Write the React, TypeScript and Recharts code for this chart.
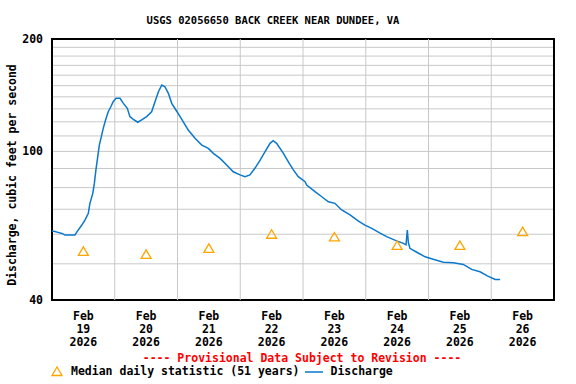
import React from "react";
import { ComposedChart, Line, Scatter, XAxis, YAxis, CartesianGrid, ReferenceLine, ReferenceArea } from "recharts";

const hours = [
  0, 1.1, 2.3, 3.8, 5, 8.8, 9.4, 11.4, 12.6, 13.9, 14.5, 15.6, 16.2, 16.8, 17.5, 18.1, 19, 19.6, 20.5,
  21.5, 22.5, 23.4, 24.5, 26, 27.3, 28.8, 29.8, 31.1, 32.8, 34.3, 36.2, 38.1, 39.4, 40.7, 42, 43.2,
  44.5, 45.8, 47.4, 49, 50.9, 52.1, 54.7, 57.3, 59.8, 61.7, 64.3, 66.8, 69.3, 71.9, 73.8, 75.7, 77.6,
  79.6, 81.5, 83.4, 84.6, 85.9, 88.5, 90.4, 92.3, 94.2, 96.8, 97.4, 100.6, 103.2, 105.7, 108.2, 110.8,
  114, 117.2, 119.7, 122.3, 125.5, 128, 131.8, 134.4, 135.4, 135.9, 136.3, 136.9, 139.5, 142.7, 145.8,
  149.7, 153.5, 157.3, 160.5, 163.7, 166.5, 169.5, 171.4,
];
const discharge = [
  61.2, 61, 60.7, 60.3, 59.7, 59.7, 60.7, 63.5, 65.5, 68.3, 72.6, 77.2, 82.1, 89.2, 96.8, 104, 110.6,
  115.3, 121.4, 127.7, 131.7, 135.9, 138.7, 138.7, 134.5, 130.4, 123.9, 121.9, 119.7, 121.4, 123.9,
  127.7, 135.9, 144.5, 150.6, 149, 143.1, 134.5, 129.1, 123.9, 117.7, 114.1, 108.4, 104, 101.9, 98.8,
  95.8, 92, 88.2, 86.5, 85.6, 86.5, 90.1, 94.8, 99.8, 105.1, 106.8, 105.1, 98.8, 93.8, 89.2, 85.6, 83,
  81.3, 78, 75.6, 73.3, 72.6, 69.7, 67.6, 65.1, 63.5, 62.2, 60.4, 59.1, 57.6, 56.7, 56.2, 61.6, 57,
  55, 53.7, 52.2, 51.4, 50.5, 50.3, 49.8, 48.3, 47.6, 46.4, 45.4, 45.4,
];

const medianHours = [12, 36, 60, 84, 108, 132, 156, 180];
const medianValues = [54, 53, 55, 60, 59, 56, 56, 61];

const dayLabels = ["19", "20", "21", "22", "23", "24", "25", "26"];
const gridHours = [24, 48, 72, 96, 120, 144, 168];
const yTicks = [40, 50, 60, 70, 80, 90, 100, 110, 120, 130, 140, 150, 160, 170, 180, 190, 200];
const yLabelTicks = [40, 100, 200];

const flowData = hours.map((h, i) => ({ h, q: discharge[i] }));
const medianData = medianHours.map((h, i) => ({ h, q: medianValues[i] }));

const FONT = "'DejaVu Sans Mono', monospace";
const BLUE = "#0a78cc";
const ORANGE = "#ffa500";
const GRID = "#c8c8c8";

function DateTick({ x, y, payload }: any) {
  const day = dayLabels[Math.floor(payload.value / 24)];
  return (
    <text x={x} y={y} textAnchor="middle" fontFamily={FONT} fontWeight="bold" fontSize={11.5} fill="#000">
      <tspan x={x} dy={18}>Feb</tspan>
      <tspan x={x} dy={13}>{day}</tspan>
      <tspan x={x} dy={13}>2026</tspan>
    </text>
  );
}

function ValueTick({ x, y, payload }: any) {
  if (!yLabelTicks.includes(payload.value)) return null;
  return (
    <text x={x} y={y} dy={4} textAnchor="end" fontFamily={FONT} fontWeight="bold" fontSize={11.5} fill="#000">
      {payload.value}
    </text>
  );
}

function Triangle({ cx, cy }: any) {
  if (cx == null || cy == null) return null;
  return (
    <polygon
      points={`${cx},${cy - 4.5} ${cx + 5},${cy + 4} ${cx - 5},${cy + 4}`}
      fill="none"
      stroke={ORANGE}
      strokeWidth={1.3}
    />
  );
}

const textStyle: React.CSSProperties = {
  position: "absolute",
  fontFamily: FONT,
  fontWeight: "bold",
  fontSize: 11.5,
  whiteSpace: "nowrap",
  lineHeight: 1,
};

export default function App() {
  return (
    <div style={{ position: "absolute", left: 0, top: 0, width: 576, height: 384, background: "#fff" }}>
      <ComposedChart width={576} height={384} data={flowData} margin={{ top: 39, right: 22, bottom: 34, left: 0 }}>
        <CartesianGrid vertical={false} stroke={GRID} strokeWidth={1} />
        {gridHours.map((h) => (
          <ReferenceLine key={h} x={h} stroke={GRID} strokeWidth={1} />
        ))}
        <XAxis
          dataKey="h"
          type="number"
          domain={[0, 192]}
          ticks={medianHours}
          interval={0}
          tick={<DateTick />}
          tickLine={false}
          tickSize={0}
          axisLine={false}
          height={50}
        />
        <YAxis
          dataKey="q"
          scale="log"
          domain={[40, 200]}
          ticks={yTicks}
          interval={0}
          allowDataOverflow
          tick={<ValueTick />}
          tickLine={false}
          tickSize={0}
          tickMargin={9}
          axisLine={false}
          width={52}
        />
        <Line
          data={flowData}
          dataKey="q"
          type="linear"
          stroke={BLUE}
          strokeWidth={1.5}
          dot={false}
          isAnimationActive={false}
        />
        <Scatter data={medianData} dataKey="q" shape={<Triangle />} isAnimationActive={false} />
        <ReferenceArea x1={0} x2={192} y1={40} y2={200} fill="none" stroke="#000" strokeWidth={2} ifOverflow="visible" />
      </ComposedChart>

      <div style={{ ...textStyle, fontSize: 10.5, left: 273, top: 15, transform: "translateX(-50%)" }}>
        USGS 02056650 BACK CREEK NEAR DUNDEE, VA
      </div>
      <div
        style={{
          ...textStyle,
          left: 13,
          top: 175,
          transform: "translate(-50%, -50%) rotate(-90deg)",
        }}
      >
        Discharge, cubic feet per second
      </div>
      <div style={{ ...textStyle, color: "#ff0000", left: 302, top: 353, transform: "translateX(-50%)" }}>
        ---- Provisional Data Subject to Revision ----
      </div>
      <div style={{ ...textStyle, left: 51, top: 366, display: "flex", alignItems: "center" }}>
        <svg width={12} height={11} style={{ marginRight: 8 }}>
          <polygon points="6,1 11,9.5 1,9.5" fill="none" stroke={ORANGE} strokeWidth={1.3} />
        </svg>
        <span>Median daily statistic (51 years)</span>
        <svg width={20} height={4} style={{ margin: "0 5px 0 6px" }}>
          <line x1={0} y1={2} x2={18} y2={2} stroke={BLUE} strokeWidth={1.5} />
        </svg>
        <span>Discharge</span>
      </div>
    </div>
  );
}
